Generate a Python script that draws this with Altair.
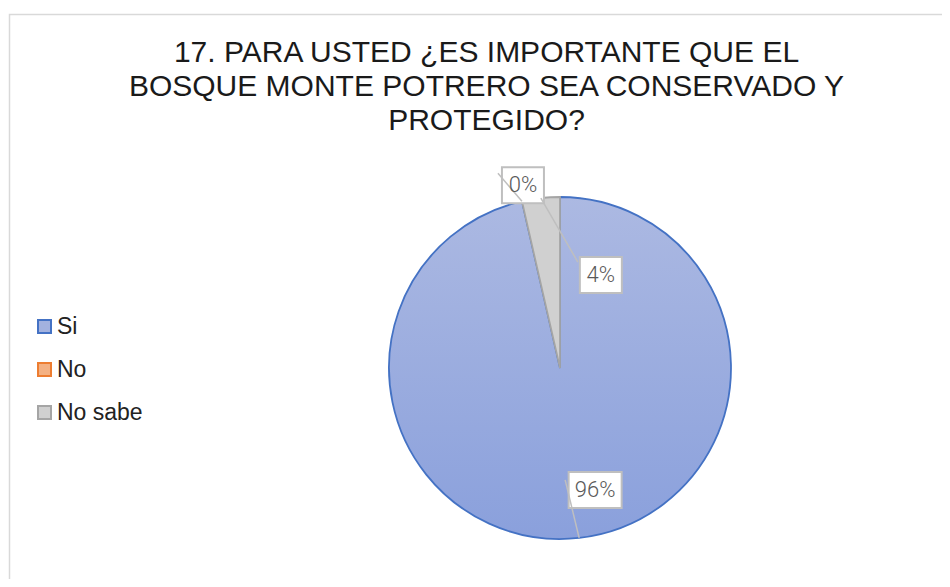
import math
import altair as alt
import pandas as pd

# ---- data ----
categories = ["Si", "No", "No sabe"]
counts = [27, 0, 1]
fill_colors = ["#a3b2df", "#f4b183", "#d0d0d0"]
stroke_colors = ["#4472c4", "#ed7d31", "#a5a5a5"]
title_lines = [
    "17. PARA USTED ¿ES IMPORTANTE QUE EL",
    "BOSQUE MONTE POTRERO SEA CONSERVADO Y",
    "PROTEGIDO?",
]

df = pd.DataFrame({"cat": categories, "n": counts, "order": list(range(len(categories)))})
title_df = pd.DataFrame({"line": title_lines, "i": list(range(len(title_lines)))})
frame_df = pd.DataFrame({"k": [0]})

W, H = 934, 571
CX, CY, R = 552, 360, 171

xs = alt.Scale(domain=[0, W], range=[0, W], nice=False, zero=False)
ys = alt.Scale(domain=[0, H], range=[0, H], nice=False, zero=False)
theta_scale = alt.Scale(domain=[0, 1], range=[0, 2 * math.pi])

LABEL_FONT = "Roboto, sans-serif"
TEXT_FONT = "Liberation Sans, Arial, sans-serif"

base = (
    alt.Chart(df)
    .transform_joinaggregate(total="sum(n)")
    .transform_window(cum="sum(n)", sort=[alt.SortField("order")], frame=[None, 0])
    .transform_calculate(fe="datum.cum / datum.total")
    .transform_calculate(fs="(datum.cum - datum.n) / datum.total")
    .transform_calculate(pct="format(datum.n / datum.total, '.0%')")
    .transform_calculate(mid="PI * (datum.fs + datum.fe)")
)

legend = alt.Legend(
    title=None,
    orient="none",
    legendX=25,
    legendY=307,
    symbolType="square",
    symbolSize=169,
    symbolStrokeWidth=2,
    labelFont=TEXT_FONT,
    labelFontSize=23,
    labelColor="#222222",
    labelOffset=1,
    rowPadding=19,
    padding=0,
)

gradient = {
    "gradient": "linear",
    "x1": 0, "y1": 0, "x2": 0, "y2": 1,
    "stops": [
        {"offset": 0, "color": "#acb9e2"},
        {"offset": 1, "color": "#8aa0dc"},
    ],
}

arcs = base.mark_arc(radius=R, strokeWidth=1.8).encode(
    x=alt.value(CX),
    y=alt.value(CY),
    theta=alt.Theta("fs:Q", scale=theta_scale),
    theta2="fe:Q",
    fill=alt.condition(
        "datum.cat == 'Si'",
        alt.value(gradient),
        alt.Fill("cat:N", scale=alt.Scale(domain=categories, range=fill_colors), legend=legend),
    ),
    stroke=alt.Stroke("cat:N", scale=alt.Scale(domain=categories, range=stroke_colors), legend=legend),
    strokeOpacity=alt.condition("datum.n == 0", alt.value(0), alt.value(1)),
    order=alt.Order("order:Q"),
)

ann = (
    base.transform_calculate(ex=f"{CX} + {R} * sin(datum.mid)")
    .transform_calculate(ey=f"{CY} - {R} * cos(datum.mid)")
    .transform_calculate(lx="datum.ex + (datum.cat == 'Si' ? 16 : datum.cat == 'No' ? 1 : 60)")
    .transform_calculate(ly="datum.ey + (datum.cat == 'Si' ? -48 : datum.cat == 'No' ? -16 : 77)")
    .transform_calculate(tx="datum.ex + (datum.cat == 'Si' ? -14 : datum.cat == 'No' ? -24 : 37)")
    .transform_calculate(ty="datum.ey + (datum.cat == 'Si' ? -58 : datum.cat == 'No' ? -28 : 64)")
    .transform_calculate(hw="(20 + 11 * length(datum.pct)) / 2")
    .transform_calculate(bx1="datum.lx - datum.hw", bx2="datum.lx + datum.hw")
    .transform_calculate(by1="datum.ly - 18", by2="datum.ly + 18")
)

boxes = ann.mark_rect(fill="white", stroke="#bfbfbf", strokeWidth=2).encode(
    x=alt.X("bx1:Q", scale=xs, axis=None),
    x2="bx2:Q",
    y=alt.Y("by1:Q", scale=ys, axis=None),
    y2="by2:Q",
)

leaders = ann.mark_rule(color="#bfbfbf", strokeWidth=1.5).encode(
    x=alt.X("ex:Q", scale=xs, axis=None),
    y=alt.Y("ey:Q", scale=ys, axis=None),
    x2="tx:Q",
    y2="ty:Q",
)

labels = ann.mark_text(
    font=LABEL_FONT, fontSize=22, fontWeight=300, color="#595959", baseline="middle", align="center"
).encode(
    x=alt.X("lx:Q", scale=xs, axis=None),
    y=alt.Y("ly:Q", scale=ys, axis=None),
    text="pct:N",
)

title = (
    alt.Chart(title_df)
    .transform_calculate(ty="54 + 34 * datum.i", tx="478.5")
    .mark_text(font=TEXT_FONT, fontSize=30, color="#1a1a1a", baseline="alphabetic", align="center")
    .encode(
        x=alt.X("tx:Q", scale=xs, axis=None),
        y=alt.Y("ty:Q", scale=ys, axis=None),
        text="line:N",
    )
)

frame = alt.Chart(frame_df).mark_rect(fill=None, stroke="#d9d9d9", strokeWidth=1.5).encode(
    x=alt.value(1.5), x2=alt.value(W + 20), y=alt.value(6.5), y2=alt.value(H + 20)
)

chart = (
    alt.layer(frame, arcs, boxes, leaders, labels, title)
    .properties(width=W, height=H, padding=0, autosize=alt.AutoSizeParams(type="none"), background="white")
    .configure_view(stroke=None)
)

chart.save("out.html", embed_options={"renderer": "svg", "actions": False})
